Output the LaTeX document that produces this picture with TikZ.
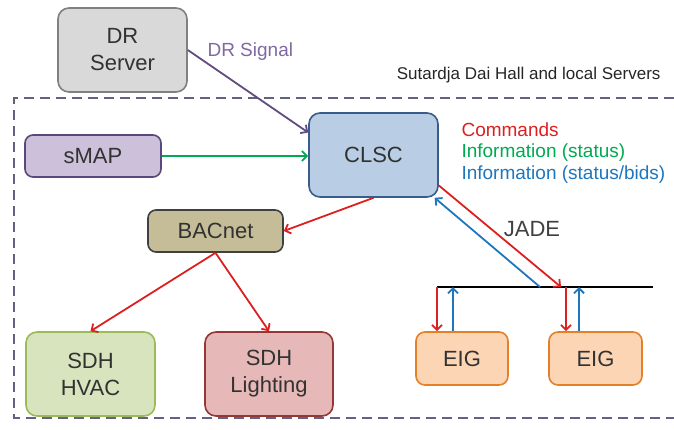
\documentclass[tikz,border=0pt]{standalone}
\usepackage{fontspec}
\setmainfont{Liberation Sans}
\usetikzlibrary{arrows, arrows.meta}

\definecolor{cmdred}{RGB}{220,32,32}
\definecolor{infogreen}{RGB}{0,170,80}
\definecolor{infoblue}{RGB}{30,118,190}
\definecolor{drline}{RGB}{96,76,128}
\definecolor{drtext}{RGB}{128,104,162}
\definecolor{dashgray}{RGB}{100,96,128}
\definecolor{boxtext}{RGB}{50,50,50}

\tikzset{
  >={Straight Barb[length=5pt,width=10pt]},
  box/.style={draw, line width=1.6pt, rounded corners=11pt, align=center,
    text=boxtext, font=\fontsize{22}{27}\selectfont, inner sep=0pt},
  cmd/.style={->, draw=cmdred, line width=1.8pt},
  info/.style={->, draw=infogreen, line width=1.8pt},
  bids/.style={->, draw=infoblue, line width=1.8pt}
}

\begin{document}
\begin{tikzpicture}[x=1pt, y=-1pt]
    \useasboundingbox (0,0) rectangle (674,429);
    % building boundary
    \draw[dashgray, line width=1.6pt, dash pattern=on 10pt off 6pt]
        (674,98) -- (14,98) -- (14,418) -- (674,418);
    \node[anchor=east, font=\fontsize{17}{20}\selectfont, text=black!85] (sdh) at (664,75)
        {Sutardja Dai Hall and local Servers};
    % boxes
    \node[box, fill=black!15, draw=black!50, minimum width=129pt, minimum height=84pt] (dr) at (122.5,50) {DR\\Server};
    \node[box, fill={rgb,255:red,204;green,192;blue,218}, draw={rgb,255:red,90;green,72;blue,125},
        rounded corners=8pt, minimum width=136pt, minimum height=42pt] (smap) at (93,156) {sMAP};
    \node[box, fill={rgb,255:red,185;green,205;blue,229}, draw={rgb,255:red,56;green,93;blue,138},
        minimum width=129pt, minimum height=84pt] (clsc) at (373.5,155) {CLSC};
    \node[box, fill={rgb,255:red,196;green,189;blue,151}, draw=black!75,
        rounded corners=8pt, minimum width=135pt, minimum height=42pt] (bacnet) at (215.5,231) {BACnet};
    \node[box, fill={rgb,255:red,215;green,228;blue,189}, draw={rgb,255:red,155;green,187;blue,89},
        minimum width=129pt, minimum height=84pt] (hvac) at (90.5,374) {SDH\\HVAC};
    \node[box, fill={rgb,255:red,230;green,185;blue,184}, draw={rgb,255:red,149;green,55;blue,53},
        minimum width=128pt, minimum height=84pt] (light) at (269,374) {SDH\\Lighting};
    \node[box, fill={rgb,255:red,252;green,213;blue,181}, draw={rgb,255:red,228;green,128;blue,40},
        rounded corners=9pt, minimum width=92pt, minimum height=53pt] (eiga) at (462,358.5) {EIG};
    \node[box, fill={rgb,255:red,252;green,213;blue,181}, draw={rgb,255:red,228;green,128;blue,40},
        rounded corners=9pt, minimum width=93pt, minimum height=53pt] (eigb) at (595.5,358.5) {EIG};
    % legend
    \node[anchor=west, text=cmdred, font=\fontsize{19}{22}\selectfont] (lcmd) at (458,130) {Commands};
    \node[anchor=west, text=infogreen, font=\fontsize{19}{22}\selectfont] (linfo) at (458,153) {Information (status)};
    \node[anchor=west, text=infoblue, font=\fontsize{19}{22}\selectfont] (lbids) at (458,175) {Information (status/bids)};
    % DR signal
    \draw[->, drline, line width=1.8pt] (dr.east) -- (clsc.161);
    \node[anchor=west, text=drtext, font=\fontsize{19}{22}\selectfont] (drsig) at (204,52) {DR Signal};
    % sMAP
    \draw[info] (smap.east) -- (smap.east -| clsc.west);
    % BACnet tree
    \draw[cmd] (clsc.south) -- (bacnet.east);
    \draw[cmd] (bacnet.south) -- (hvac.north);
    \draw[cmd] (bacnet.south) -- (light.north);
    % JADE bus
    \coordinate (busL) at (437,287);
    \coordinate (busR) at (653,287);
    \coordinate (jadein) at (561,287);
    \coordinate (jadeout) at (540,287);
    \draw[black, line width=1.6pt] (busL) -- (busR);
    \draw[cmd] (clsc.-25) -- (jadein);
    \draw[bids] (jadeout) -- (clsc.-35);
    \node[text=black!75, font=\fontsize{22}{25}\selectfont] (jade) at (532,229) {JADE};
    % EIG links
    \draw[cmd] (busL) -- (busL |- eiga.north);
    \draw[bids] ([xshift=-9pt]eiga.north) -- ([xshift=-9pt]eiga.north |- busL);
    \draw[cmd] ([xshift=-29.5pt]eigb.north |- busL) -- ([xshift=-29.5pt]eigb.north);
    \draw[bids] ([xshift=-16.5pt]eigb.north) -- ([xshift=-16.5pt]eigb.north |- busL);
\end{tikzpicture}
\end{document}
